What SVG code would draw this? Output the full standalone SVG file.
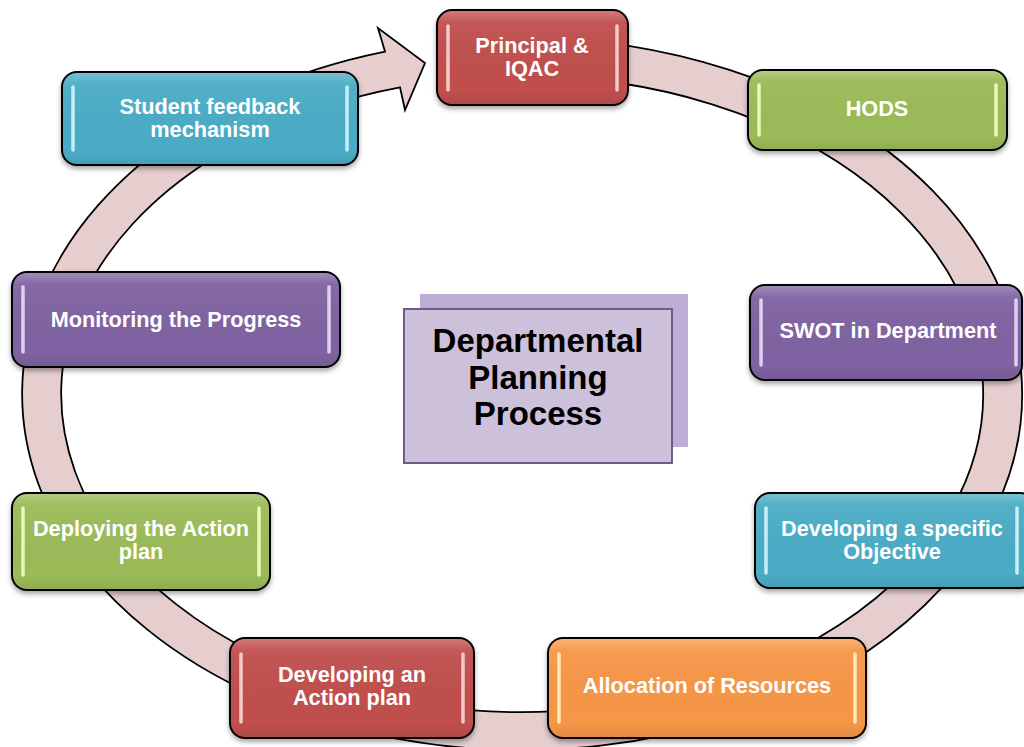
<svg xmlns="http://www.w3.org/2000/svg" width="1024" height="747" viewBox="0 0 1024 747">
<defs>
<linearGradient id="gloss" x1="0" y1="0" x2="0" y2="1">
<stop offset="0" stop-color="#fff" stop-opacity="0.25"/>
<stop offset="0.12" stop-color="#fff" stop-opacity="0.05"/>
<stop offset="0.85" stop-color="#000" stop-opacity="0"/>
<stop offset="1" stop-color="#000" stop-opacity="0.08"/>
</linearGradient>
<filter id="sh" x="-10%" y="-10%" width="120%" height="130%">
<feDropShadow dx="0" dy="3" stdDeviation="2.5" flood-color="#000" flood-opacity="0.35"/>
</filter>
</defs>
<style>
.box{stroke:#000;stroke-width:2;filter:url(#sh)}
.gl{fill:url(#gloss);stroke:none}
.hl{stroke-width:3.5;stroke-linecap:round;fill:none;opacity:0.9}
.red{fill:#c0504d}.grn{fill:#9bbb59}.blu{fill:#4bacc6}.pur{fill:#8064a2}.org{fill:#f79646}
.hred{stroke:#fbd6d5}.hgrn{stroke:#f3ffc2}.hblu{stroke:#d2f6ff}.hpur{stroke:#e8dcf8}.horg{stroke:#fff2c4}
.t{font-family:"Liberation Sans",Arial,sans-serif;font-weight:bold;font-size:21.7px;fill:#fff;text-anchor:middle}
.ct{font-family:"Liberation Sans",Arial,sans-serif;font-weight:bold;font-size:33px;fill:#000;text-anchor:middle}
.ring{fill:#e6cecf;stroke:#000;stroke-width:1.8;stroke-linejoin:miter}
</style>
<rect width="1024" height="747" fill="#fff"/>
<g id="connectors">
<path class="ring" d="M500,38.3 A500,356 0 1 1 385,51.6 L378,28 L425,63 L405,110 L400,87.4 A461,318 0 1 0 500,76.4 Z"/>
</g>
<g id="center">
<rect x="420" y="294" width="268" height="153" fill="#bcaed2"/>
<rect x="404" y="309" width="268" height="154" fill="#ccc0da" stroke="#6f5a8e" stroke-width="2"/>
<text class="ct" x="538" y="352">Departmental</text>
<text class="ct" x="538" y="389">Planning</text>
<text class="ct" x="538" y="425">Process</text>
</g>
<g id="principal">
<rect class="box red" x="437" y="10" width="191" height="95" rx="15"/>
<rect class="gl" x="438" y="11" width="189" height="93" rx="14"/>
<line class="hl hred" x1="448" y1="26" x2="448" y2="90"/>
<line class="hl hred" x1="617" y1="26" x2="617" y2="90"/>
<text class="t" x="532" y="53">Principal &amp;</text>
<text class="t" x="532" y="76">IQAC</text>
</g>
<g id="hods">
<rect class="box grn" x="748" y="70" width="259" height="80" rx="15"/>
<rect class="gl" x="749" y="71" width="257" height="78" rx="14"/>
<line class="hl hgrn" x1="759" y1="85" x2="759" y2="135"/>
<line class="hl hgrn" x1="996" y1="85" x2="996" y2="135"/>
<text class="t" x="877" y="116">HODS</text>
</g>
<g id="student">
<rect class="box blu" x="62" y="72" width="296" height="93" rx="15"/>
<rect class="gl" x="63" y="73" width="294" height="91" rx="14"/>
<line class="hl hblu" x1="73" y1="87" x2="73" y2="150"/>
<line class="hl hblu" x1="347" y1="87" x2="347" y2="150"/>
<text class="t" x="210" y="114">Student feedback</text>
<text class="t" x="210" y="137">mechanism</text>
</g>
<g id="monitoring">
<rect class="box pur" x="12" y="272" width="328" height="95" rx="15"/>
<rect class="gl" x="13" y="273" width="326" height="93" rx="14"/>
<line class="hl hpur" x1="23" y1="287" x2="23" y2="352"/>
<line class="hl hpur" x1="329" y1="287" x2="329" y2="352"/>
<text class="t" x="176" y="327">Monitoring the Progress</text>
</g>
<g id="swot">
<rect class="box pur" x="750" y="285" width="272" height="95" rx="15"/>
<rect class="gl" x="751" y="286" width="270" height="93" rx="14"/>
<line class="hl hpur" x1="761" y1="300" x2="761" y2="365"/>
<line class="hl hpur" x1="1016" y1="300" x2="1016" y2="365"/>
<text class="t" x="888" y="338">SWOT in Department</text>
</g>
<g id="deploying">
<rect class="box grn" x="12" y="493" width="258" height="97" rx="15"/>
<rect class="gl" x="13" y="494" width="256" height="95" rx="14"/>
<line class="hl hgrn" x1="23" y1="508" x2="23" y2="575"/>
<line class="hl hgrn" x1="259" y1="508" x2="259" y2="575"/>
<text class="t" x="141" y="536">Deploying the Action</text>
<text class="t" x="141" y="559">plan</text>
</g>
<g id="objective">
<rect class="box blu" x="755" y="493" width="280" height="95" rx="15"/>
<rect class="gl" x="756" y="494" width="278" height="93" rx="14"/>
<line class="hl hblu" x1="766" y1="508" x2="766" y2="573"/>
<line class="hl hblu" x1="1017" y1="508" x2="1017" y2="573"/>
<text class="t" x="892" y="536">Developing a specific</text>
<text class="t" x="892" y="559">Objective</text>
</g>
<g id="action-plan">
<rect class="box red" x="230" y="638" width="244" height="100" rx="15"/>
<rect class="gl" x="231" y="639" width="242" height="98" rx="14"/>
<line class="hl hred" x1="241" y1="654" x2="241" y2="722"/>
<line class="hl hred" x1="463" y1="654" x2="463" y2="722"/>
<text class="t" x="352" y="682">Developing an</text>
<text class="t" x="352" y="705">Action plan</text>
</g>
<g id="allocation">
<rect class="box org" x="548" y="638" width="318" height="100" rx="15"/>
<rect class="gl" x="549" y="639" width="316" height="98" rx="14"/>
<line class="hl horg" x1="559" y1="654" x2="559" y2="722"/>
<line class="hl horg" x1="855" y1="654" x2="855" y2="722"/>
<text class="t" x="707" y="693">Allocation of Resources</text>
</g>
</svg>
